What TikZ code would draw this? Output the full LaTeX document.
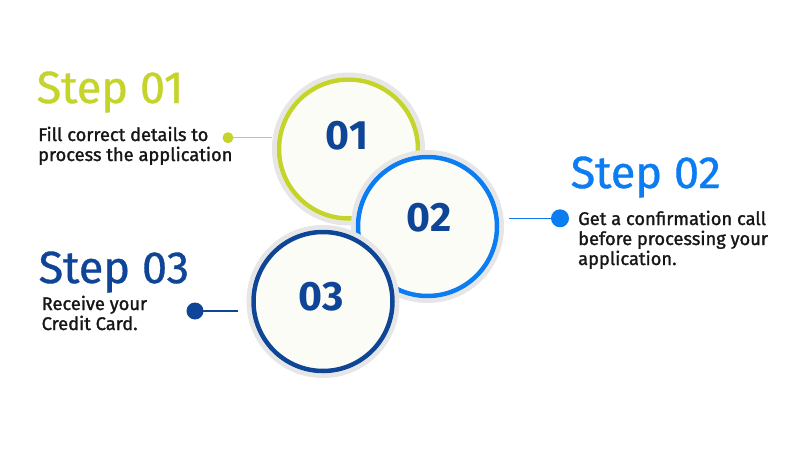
\documentclass[tikz,border=0pt]{standalone}
\usepackage{fontspec}
\setmainfont{Fira Sans}
\newfontfamily\medfont{Fira Sans}[FakeBold=0.8]
\newfontfamily\semifont{Fira Sans}[FakeBold=1.4]
\definecolor{stepgreen}{RGB}{196,212,43}
\definecolor{stepblue}{RGB}{11,124,242}
\definecolor{stepdark}{RGB}{15,69,151}
\definecolor{ringgray}{RGB}{230,230,230}
\definecolor{innerfill}{RGB}{252,252,247}
\definecolor{bodytext}{RGB}{22,22,22}
\begin{document}
\begin{tikzpicture}[x=1pt,y=-1pt,
  stepcircle/.style={circle, minimum size=153pt, inner sep=0pt, fill=ringgray,
    path picture={
      \fill[innerfill] (path picture bounding box.center) circle (72pt);
      \draw[#1, line width=4.5pt] (path picture bounding box.center) circle (69.5pt);
    }},
  numtext/.style={inner sep=0pt, text=stepdark, font=\bfseries\fontsize{41}{41}\selectfont},
  heading/.style={inner sep=0pt, anchor=base west, text=#1, font=\medfont\fontsize{45}{45}\selectfont},
  bodytxt/.style={inner sep=0pt, anchor=base west, align=left, text=bodytext, font=\semifont\fontsize{18.3}{20}\selectfont},
  dotnode/.style={circle, inner sep=0pt, fill=#1},
  link/.style={draw=#1, line width=1.2pt}
]
\useasboundingbox (0,0) rectangle (800,450);
\fill[white] (0,0) rectangle (800,450);

% circles
\node[stepcircle=stepgreen] (c1) at (348.5,149) {};
\node[stepcircle=stepblue] (c2) at (427.5,226.5) {};
\node[stepcircle=stepdark] (c3) at (323,301.5) {};

\node[numtext] (n1) at (347,136) {01};
\node[numtext] (n2) at (429,218) {02};
\node[numtext] (n3) at (321,297) {03};

% headings
\node[heading=stepgreen] (h1) at (36.5,103) {Step 01};
\node[heading=stepblue] (h2) at (570.5,188) {Step 02};
\node[heading=stepdark] (h3) at (38.5,283) {Step 03};

% body texts (anchor at the baseline of the last line)
\node[bodytxt] (b1) at (38,161) {Fill correct details to\\process the application};
\node[bodytxt] (b2) at (578,265) {Get a confirmation call\\before processing your\\application.};
\node[bodytxt] (b3) at (41.5,330) {Receive your\\Credit Card.};

% dots and connectors
\node[dotnode=stepgreen, minimum size=11pt] (d1) at (228,137.7) {};
\node[dotnode=stepblue, minimum size=18pt] (d2) at (560,218.3) {};
\node[dotnode=stepdark, minimum size=17pt] (d3) at (195,311) {};

\draw[link=stepgreen] (d1.center) -- (d1 -| c1.west);
\draw[link=stepblue] (d2.center) -- ([xshift=5pt]c2.east |- d2);
\draw[link=stepdark] (d3.center) -- ([xshift=-8pt]c3.west |- d3);
\end{tikzpicture}
\end{document}
